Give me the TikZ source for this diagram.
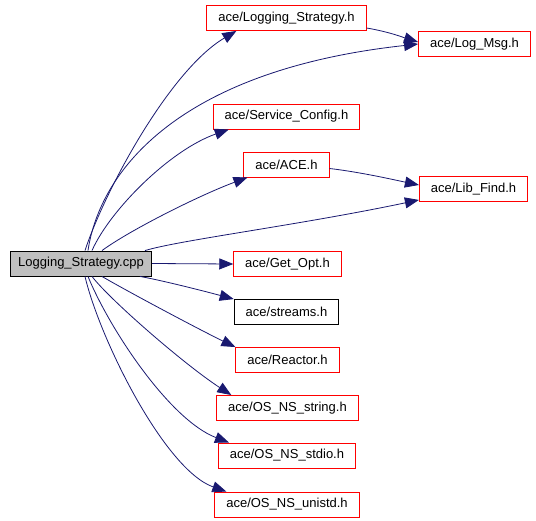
\documentclass[tikz,border=0pt]{standalone}
\usepackage{fontspec}
\setmainfont{Liberation Sans}
\usetikzlibrary{arrows.meta}

\definecolor{edgeblue}{HTML}{191970}
\definecolor{maingray}{HTML}{BFBFBF}

\begin{document}
\begin{tikzpicture}[x=1pt, y=-1pt, >={Triangle[length=14pt,width=11pt]},
	file/.style={draw=red, line width=0.9pt, fill=white, minimum height=25pt,
		inner xsep=11.5pt, inner ysep=0pt, font=\fontsize{13}{15}\selectfont},
	plain/.style={file, draw=black},
	source/.style={file, draw=black, fill=maingray, inner xsep=8pt},
	edge/.style={->, draw=edgeblue, line width=0.8pt}]
		\useasboundingbox (0,0) rectangle (536,520);

		% the source file
		\node[source] (main) at (81,263.5) {Logging\_Strategy.cpp};

		% included headers
		\node[file] (lstr) at (286.5,18) {ace/Logging\_Strategy.h};
		\node[file] (logmsg) at (474.5,44) {ace/Log\_Msg.h};
		\node[file] (svc) at (286.5,116.5) {ace/Service\_Config.h};
		\node[file] (ace) at (286.5,164.5) {ace/ACE.h};
		\node[file] (libfind) at (473.5,189) {ace/Lib\_Find.h};
		\node[file] (getopt) at (287.5,264) {ace/Get\_Opt.h};
		\node[plain] (streams) at (286.5,312) {ace/streams.h};
		\node[file] (reactor) at (287.5,360) {ace/Reactor.h};
		\node[file] (nsstring) at (287.5,408) {ace/OS\_NS\_string.h};
		\node[file] (nsstdio) at (287,455.5) {ace/OS\_NS\_stdio.h};
		\node[file] (nsunistd) at (287,504.5) {ace/OS\_NS\_unistd.h};

		% upper fan
		\draw[edge] ([xshift=4pt]main.north) .. controls (105,190) and (170,70)
			.. ([xshift=30pt]lstr.south west);
		\draw[edge] ([xshift=7pt]main.north) .. controls (100,170) and (180,70)
			.. (logmsg.west);
		\draw[edge] ([xshift=11pt]main.north) .. controls (110,210) and (170,150)
			.. ([xshift=16pt]svc.south west);
		\draw[edge] ([xshift=21pt]main.north) .. controls (130,230) and (200,195)
			.. ([xshift=4pt]ace.south west);
		\draw[edge] ([xshift=64pt]main.north) .. controls (180,240) and (300,225)
			.. ([yshift=2pt]libfind.south west);

		% between headers
		\draw[edge] ([yshift=-10pt]lstr.east) .. controls (390,32) and (405,38)
			.. ([yshift=2pt]logmsg.west);
		\draw[edge] ([yshift=-4pt]ace.east) .. controls (360,172) and (395,180)
			.. ([yshift=4pt]libfind.west);

		% straight on
		\draw[edge] (main.east) -- (getopt.west);

		% lower fan
		\draw[edge] ([xshift=59pt]main.south) .. controls (160,280) and (200,290)
			.. (streams.north west);
		\draw[edge] ([xshift=21pt]main.south) .. controls (125,290) and (200,330)
			.. (reactor.north west);
		\draw[edge] ([xshift=11pt]main.south) .. controls (110,300) and (185,365)
			.. ([xshift=15pt]nsstring.north west);
		\draw[edge] ([xshift=7pt]main.south) .. controls (110,330) and (170,420)
			.. ([xshift=11pt]nsstdio.north west);
		\draw[edge] ([xshift=4pt]main.south) .. controls (100,340) and (165,470)
			.. ([xshift=12pt]nsunistd.north west);
	\end{tikzpicture}
\end{document}
